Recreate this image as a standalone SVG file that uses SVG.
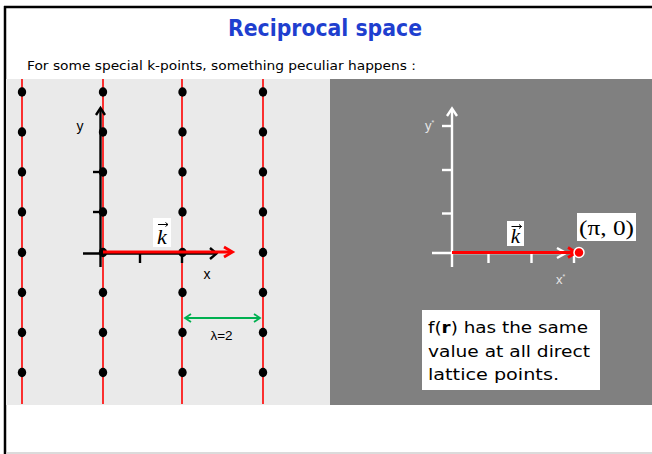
<svg xmlns="http://www.w3.org/2000/svg" width="652" height="454" viewBox="0 0 652 454">
<style>
.red{stroke:#ff0000;stroke-width:1.6;fill:none}
.dot{fill:#000}
.blk{stroke:#000;stroke-width:2.4;fill:none}
.wht{stroke:#fff;stroke-width:2.4;fill:none}
.acc{stroke:#000;stroke-width:1;fill:none}
.comic{font-family:"DejaVu Sans","Noto Sans",sans-serif}
.ar{font-family:"Liberation Sans",Arial,sans-serif}
.ser{font-family:"Liberation Serif","DejaVu Serif",serif}
</style>
<rect x="0" y="0" width="652" height="454" fill="#fff"/>
<!-- frame -->
<line x1="4" y1="7" x2="652" y2="7" stroke="#000" stroke-width="2.5"/>
<line x1="5" y1="6" x2="5" y2="454" stroke="#000" stroke-width="2.5"/>
<line x1="6" y1="453" x2="652" y2="453" stroke="#cfcfcf" stroke-width="1.5"/>

<g id="title">
<text class="comic" x="325" y="36" text-anchor="middle" font-size="23" font-weight="bold" fill="#1f3fcf" textLength="194" lengthAdjust="spacingAndGlyphs">Reciprocal space</text>
</g>
<g id="subtitle">
<text class="comic" x="27" y="70" font-size="13" fill="#000" textLength="389" lengthAdjust="spacingAndGlyphs">For some special k-points, something peculiar happens  :</text>
</g>

<!-- panels -->
<rect id="left-panel" x="6" y="79" width="324" height="326" fill="#eaeaea"/>
<rect id="right-panel" x="330" y="79" width="322" height="326" fill="#808080"/>

<g id="lattice">
<line class="red" x1="22" y1="79" x2="22" y2="404"/>
<line class="red" x1="103" y1="79" x2="103" y2="404"/>
<line class="red" x1="182" y1="79" x2="182" y2="404"/>
<line class="red" x1="263" y1="79" x2="263" y2="404"/>
</g>

<g id="direct-axes">
<line class="blk" x1="100.5" y1="109" x2="100.5" y2="267"/>
<polyline class="blk" points="96,115 100.5,108 105,115"/>
<line class="blk" x1="93" y1="172" x2="100.5" y2="172"/>
<line class="blk" x1="93" y1="212" x2="100.5" y2="212"/>
<line class="blk" x1="83" y1="253.5" x2="216" y2="253.5"/>
<polyline class="blk" points="210,248 216.5,253.5 210,259"/>
<line class="blk" x1="140" y1="253" x2="140" y2="263"/>
<line class="blk" x1="182" y1="253" x2="182" y2="263"/>
<text class="ar" x="80" y="131" font-size="14" text-anchor="middle" fill="#000">y</text>
<text class="ar" x="207" y="279" font-size="14" text-anchor="middle" fill="#000">x</text>
</g>

<g id="dots">
<g class="dot">
<ellipse cx="22" cy="92" rx="4.2" ry="4.7"/><ellipse cx="22" cy="132" rx="4.2" ry="4.7"/><ellipse cx="22" cy="172" rx="4.2" ry="4.7"/><ellipse cx="22" cy="212" rx="4.2" ry="4.7"/><ellipse cx="22" cy="252.5" rx="4.2" ry="4.7"/><ellipse cx="22" cy="292.5" rx="4.2" ry="4.7"/><ellipse cx="22" cy="332.5" rx="4.2" ry="4.7"/><ellipse cx="22" cy="372.5" rx="4.2" ry="4.7"/>
<ellipse cx="103" cy="92" rx="4.2" ry="4.7"/><ellipse cx="103" cy="132" rx="4.2" ry="4.7"/><ellipse cx="103" cy="172" rx="4.2" ry="4.7"/><ellipse cx="103" cy="212" rx="4.2" ry="4.7"/><ellipse cx="103" cy="252.5" rx="4.2" ry="4.7"/><ellipse cx="103" cy="292.5" rx="4.2" ry="4.7"/><ellipse cx="103" cy="332.5" rx="4.2" ry="4.7"/><ellipse cx="103" cy="372.5" rx="4.2" ry="4.7"/>
<ellipse cx="182.5" cy="92" rx="4.2" ry="4.7"/><ellipse cx="182.5" cy="132" rx="4.2" ry="4.7"/><ellipse cx="182.5" cy="172" rx="4.2" ry="4.7"/><ellipse cx="182.5" cy="212" rx="4.2" ry="4.7"/><ellipse cx="182.5" cy="252.5" rx="4.2" ry="4.7"/><ellipse cx="182.5" cy="292.5" rx="4.2" ry="4.7"/><ellipse cx="182.5" cy="332.5" rx="4.2" ry="4.7"/><ellipse cx="182.5" cy="372.5" rx="4.2" ry="4.7"/>
<ellipse cx="263" cy="92" rx="4.2" ry="4.7"/><ellipse cx="263" cy="132" rx="4.2" ry="4.7"/><ellipse cx="263" cy="172" rx="4.2" ry="4.7"/><ellipse cx="263" cy="212" rx="4.2" ry="4.7"/><ellipse cx="263" cy="252.5" rx="4.2" ry="4.7"/><ellipse cx="263" cy="292.5" rx="4.2" ry="4.7"/><ellipse cx="263" cy="332.5" rx="4.2" ry="4.7"/><ellipse cx="263" cy="372.5" rx="4.2" ry="4.7"/>
</g>
</g>

<g id="k-vector-direct">
<line x1="103" y1="252" x2="231" y2="252" stroke="#ff0000" stroke-width="2.8"/>
<polyline points="224,247 232.5,252 224,257" stroke="#ff0000" stroke-width="2.8" fill="none"/>
<rect x="153" y="218" width="18" height="29" fill="#fff"/>
<text class="ser" x="162" y="244" font-size="22" font-style="italic" text-anchor="middle" fill="#000">k</text>
<path class="acc" d="M158,224.5 H168 M165.5,222.5 L168,224.5 L165.5,226.5"/>
</g>

<g id="lambda">
<line x1="186" y1="318" x2="259" y2="318" stroke="#00b050" stroke-width="1.8"/>
<polyline points="191,314 185,318 191,322" stroke="#00b050" stroke-width="1.8" fill="none"/>
<polyline points="254,314 260,318 254,322" stroke="#00b050" stroke-width="1.8" fill="none"/>
<text class="ar" x="221.5" y="339.5" font-size="13.5" text-anchor="middle" fill="#000">λ=2</text>
</g>

<g id="reciprocal-axes">
<line class="wht" x1="452" y1="109" x2="452" y2="267"/>
<polyline class="wht" points="447,116 452,108.5 457,116"/>
<line class="wht" x1="442" y1="126" x2="452" y2="126"/>
<line class="wht" x1="442" y1="170" x2="452" y2="170"/>
<line class="wht" x1="442" y1="213.5" x2="452" y2="213.5"/>
<line class="wht" x1="432" y1="253" x2="565" y2="253"/>
<polyline class="wht" points="557,248 566,253 557,258"/>
<line class="wht" x1="488.5" y1="253" x2="488.5" y2="263"/>
<line class="wht" x1="531.5" y1="253" x2="531.5" y2="263"/>
<line class="wht" x1="574" y1="253" x2="574" y2="263"/>
<text class="ar" x="425" y="130" font-size="13" fill="#e6e6e6">y<tspan font-size="7" dy="-5">*</tspan></text>
<text class="ar" x="556" y="284" font-size="13" fill="#e6e6e6">x<tspan font-size="7" dy="-5">*</tspan></text>
</g>

<g id="k-vector-reciprocal">
<line x1="452" y1="252.5" x2="574" y2="252.5" stroke="#ff0000" stroke-width="2.8"/>
<polyline points="568,247.5 576,252.5 568,257.5" stroke="#ff0000" stroke-width="2.8" fill="none"/>
<circle cx="579" cy="252.5" r="5" fill="#ff0000" stroke="#fff" stroke-width="1.5"/>
<rect x="507" y="221" width="17" height="25" fill="#fff"/>
<text class="ser" x="515.5" y="243" font-size="21" font-style="italic" text-anchor="middle" fill="#000">k</text>
<path class="acc" d="M511.5,226.5 H521.5 M519,224.5 L521.5,226.5 L519,228.5"/>
</g>

<g id="point-label">
<rect x="577" y="213" width="59" height="28" fill="#fff"/>
<text class="ser" x="606.5" y="235" font-size="21" text-anchor="middle" fill="#000" textLength="55" lengthAdjust="spacingAndGlyphs">(π, 0)</text>
</g>

<g id="note">
<rect x="422" y="310" width="178" height="80" fill="#fff"/>
<text class="comic" font-size="16" fill="#000">
<tspan x="428" y="333" textLength="160" lengthAdjust="spacingAndGlyphs">f(<tspan font-weight="bold">r</tspan>) has the same</tspan>
<tspan x="428" y="357" textLength="162" lengthAdjust="spacingAndGlyphs">value at all direct</tspan>
<tspan x="428" y="380" textLength="131" lengthAdjust="spacingAndGlyphs">lattice points.</tspan>
</text>
</g>
</svg>
